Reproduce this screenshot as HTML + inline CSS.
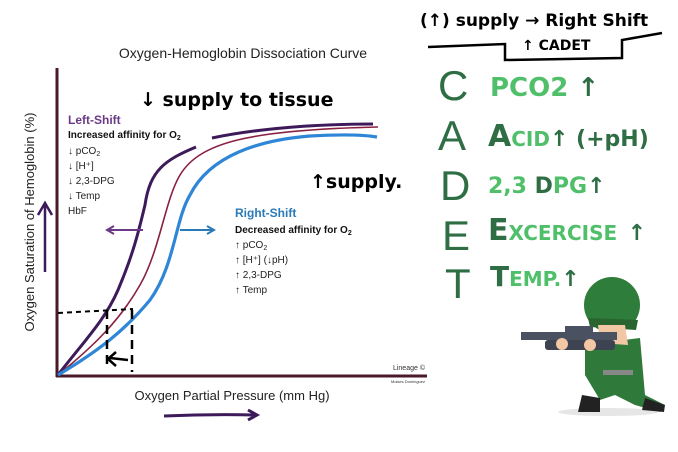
<!DOCTYPE html>
<html><head><meta charset="utf-8"><style>
body{margin:0;width:678px;height:452px;background:#fff;overflow:hidden}
svg{display:block}
.s{font-family:"Liberation Sans",sans-serif}
.h{font-family:"Liberation Sans",sans-serif;font-weight:bold}
</style></head><body>
<svg width="678" height="452" viewBox="0 0 678 452">
<text x="243" y="58" text-anchor="middle" class="s" font-size="14" fill="#222">Oxygen-Hemoglobin Dissociation Curve</text>
<text transform="translate(34,222) rotate(-90)" text-anchor="middle" class="s" font-size="13" fill="#222">Oxygen Saturation of Hemoglobin (%)</text>
<text x="232" y="400" text-anchor="middle" class="s" font-size="13" fill="#222">Oxygen Partial Pressure (mm Hg)</text>
<path d="M45 272 L45 205 M38 215 L45 203 L52 215" stroke="#3d1b5a" stroke-width="2.5" fill="none"/>
<path d="M164 416 Q210 414 256 415 M248 410 L257 415 L248 420" stroke="#3d1b5a" stroke-width="3" fill="none"/>
<line x1="57" y1="68" x2="57" y2="377" stroke="#4a1a2a" stroke-width="3"/>
<line x1="56" y1="376" x2="427" y2="376" stroke="#4a1a2a" stroke-width="3"/>
<text x="425" y="370" text-anchor="end" class="s" font-size="7" fill="#333">Lineage ©</text>
<text x="425" y="383" text-anchor="end" class="s" font-size="4" fill="#333">Moises Dominguez</text>
<path d="M58 375 C85 340 105 320 118 290 C135 250 140 225 145 205 C150 170 165 160 196 147" stroke="#3d1b5a" stroke-width="3" fill="none"/>
<path d="M212 138 C260 128 320 124 373 124" stroke="#3d1b5a" stroke-width="3" fill="none"/>
<path d="M58 375 C95 345 120 320 140 285 C160 250 165 200 180 175 C200 142 250 130 378 127" stroke="#8a2040" stroke-width="1.6" fill="none"/>
<path d="M58 375 C100 350 125 330 150 300 C175 265 175 220 190 195 C210 155 260 140 310 136 C345 134 365 135 377 137" stroke="#2f86d6" stroke-width="3.2" fill="none"/>
<path d="M143 230 L108 230 M114 226 L107 230 L114 234" stroke="#6b3a86" stroke-width="2" fill="none"/>
<path d="M180 230 L214 230 M207 226 L214 230 L207 234" stroke="#2a7ab8" stroke-width="2" fill="none"/>
<path d="M58 313 L133 309" stroke="#000" stroke-width="2" stroke-dasharray="5 4" fill="none"/>
<path d="M107 310 L107 370 M132 310 L132 372" stroke="#000" stroke-width="2.5" stroke-dasharray="9 6" fill="none"/>
<path d="M128 360 L110 358 M116 352 L108 359 L116 366" stroke="#000" stroke-width="2.5" fill="none"/>
<text x="68" y="124" class="h" font-size="12" fill="#6b3a86">Left-Shift</text>
<text x="68" y="138" class="h" font-size="10" fill="#111">Increased affinity  for O<tspan font-size="7" dy="2">2</tspan></text>
<g class="s" font-size="10" fill="#222">
<text x="68" y="154">↓ pCO<tspan font-size="7" dy="2">2</tspan></text>
<text x="68" y="169">↓ [H⁺]</text>
<text x="68" y="184">↓ 2,3-DPG</text>
<text x="68" y="199">↓ Temp</text>
<text x="68" y="214">HbF</text>
</g>
<text x="235" y="217" class="h" font-size="12" fill="#2a7ab8">Right-Shift</text>
<text x="235" y="233" class="h" font-size="10" fill="#111">Decreased affinity  for O<tspan font-size="7" dy="2">2</tspan></text>
<g class="s" font-size="10" fill="#222">
<text x="235" y="248">↑ pCO<tspan font-size="7" dy="2">2</tspan></text>
<text x="235" y="263">↑ [H⁺] (↓pH)</text>
<text x="235" y="278">↑ 2,3-DPG</text>
<text x="235" y="293">↑ Temp</text>
</g>
<g font-family="DejaVu Sans,sans-serif" font-weight="bold" fill="#000">
<text x="140" y="106" font-size="19">↓ supply to tissue</text>
<text x="310" y="188" font-size="19">↑supply.</text>
<text x="420" y="26" font-size="17">(↑) supply → Right Shift</text>
<text x="522" y="50" font-size="14">↑ CADET</text>
</g>
<path d="M428 47 L505 44 L505 60 L622 58 L622 40 L662 33" stroke="#000" stroke-width="2.5" fill="none"/>
<g font-family="Liberation Sans,sans-serif" fill="#2f6e45" font-size="42">
<text x="438" y="100">C</text><text x="438" y="150">A</text><text x="440" y="200">D</text><text x="442" y="250">E</text><text x="445" y="298">T</text>
</g>
<g font-family="DejaVu Sans,sans-serif" font-weight="bold" fill="#4fbf6a">
<text x="490" y="96" font-size="26">PCO2 <tspan fill="#2f6e45">↑</tspan></text>
<text x="488" y="146" font-size="30"><tspan fill="#2f6e45">A</tspan><tspan font-size="20">CID</tspan><tspan fill="#2f6e45" font-size="22">↑ (+pH)</tspan></text>
<text x="488" y="193" font-size="22">2,3 <tspan fill="#2f6e45">D</tspan>PG<tspan fill="#2f6e45">↑</tspan></text>
<text x="488" y="240" font-size="30"><tspan fill="#2f6e45">E</tspan><tspan font-size="20">XCERCISE</tspan> <tspan fill="#2f6e45" font-size="22">↑</tspan></text>
<text x="490" y="286" font-size="28"><tspan fill="#2f6e45">T</tspan><tspan font-size="20">EMP.</tspan><tspan fill="#2f6e45" font-size="22">↑</tspan></text>
</g>
<ellipse cx="608" cy="412" rx="50" ry="4" fill="#e6e6e6"/>
<path d="M585 345 L640 338 L645 395 L665 405 L660 412 L635 405 L615 395 L600 400 L585 375 Z" fill="#2f7a3a"/>
<path d="M582 395 L600 398 L600 412 L578 412 Z" fill="#222"/>
<path d="M645 398 L665 405 L664 412 L642 410 Z" fill="#222"/>
<circle cx="612" cy="305" r="28" fill="#2e7d3a"/>
<path d="M588 318 L638 320 L636 330 L590 327 Z" fill="#2a6530"/>
<path d="M598 325 L625 325 L628 345 L600 343 Z" fill="#f2c7a3"/>
<rect x="521" y="332" width="96" height="8" fill="#4a5160"/>
<rect x="545" y="340" width="70" height="10" rx="3" fill="#3d4350"/>
<rect x="565" y="326" width="28" height="8" fill="#4a5160"/>
<circle cx="562" cy="344" r="6" fill="#f2c7a3"/>
<circle cx="590" cy="345" r="6" fill="#f2c7a3"/>
<rect x="603" y="370" width="30" height="5" fill="#888"/>
</svg>
</body></html>
